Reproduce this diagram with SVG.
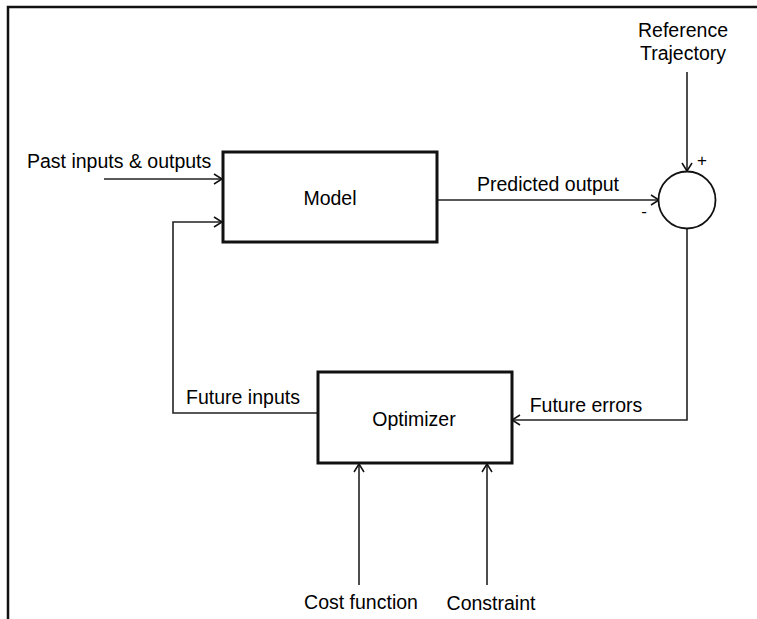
<svg xmlns="http://www.w3.org/2000/svg" width="757" height="619" viewBox="0 0 757 619">
<defs>
<marker id="arr" markerWidth="12" markerHeight="12" refX="10" refY="6" orient="auto" markerUnits="userSpaceOnUse">
<path d="M2,1 L10,6 L2,11" fill="none" stroke="#111" stroke-width="1.5"/>
</marker>
<style>
text{font-family:"Liberation Sans",Arial,sans-serif;font-size:19.5px;fill:#000}
.box{fill:#fff;stroke:#111;stroke-width:3}
.ln{fill:none;stroke:#222;stroke-width:1.6}
</style>
</defs>
<rect width="757" height="619" fill="#fff"/>
<path d="M8,619 V7 H757" fill="none" stroke="#111" stroke-width="2.5"/>
<g id="connectors">
<path class="ln" d="M104,179 H222" marker-end="url(#arr)"/>
<path class="ln" d="M318,413 H173 V222 H222" marker-end="url(#arr)"/>
<path class="ln" d="M437,200 H659" marker-end="url(#arr)"/>
<path class="ln" d="M687,72 V171" marker-end="url(#arr)"/>
<path class="ln" d="M687,229 V420 H512" marker-end="url(#arr)"/>
<path class="ln" d="M359,585 V464" marker-end="url(#arr)"/>
<path class="ln" d="M487,585 V464" marker-end="url(#arr)"/>
<text x="548" y="191" text-anchor="middle">Predicted output</text>
<text x="243" y="404" text-anchor="middle">Future inputs</text>
<text x="586" y="412" text-anchor="middle">Future errors</text>
<text x="702" y="166" text-anchor="middle" style="font-size:17px">+</text>
<text x="644" y="217" text-anchor="middle" style="font-size:17px">-</text>
</g>
<g id="model">
<rect class="box" x="223" y="152" width="214" height="90"/>
<text x="330" y="205" text-anchor="middle">Model</text>
</g>
<g id="sum">
<circle cx="687" cy="200" r="28.5" fill="#fff" stroke="#111" stroke-width="1.8"/>
</g>
<g id="optimizer">
<rect class="box" x="318" y="372" width="194" height="91"/>
<text x="414" y="426" text-anchor="middle">Optimizer</text>
</g>
<g id="inputs">
<text x="27" y="168">Past inputs &amp; outputs</text>
<text x="683" y="37" text-anchor="middle">Reference</text>
<text x="683" y="60" text-anchor="middle">Trajectory</text>
<text x="361" y="609" text-anchor="middle">Cost function</text>
<text x="491" y="610" text-anchor="middle">Constraint</text>
</g>
</svg>
